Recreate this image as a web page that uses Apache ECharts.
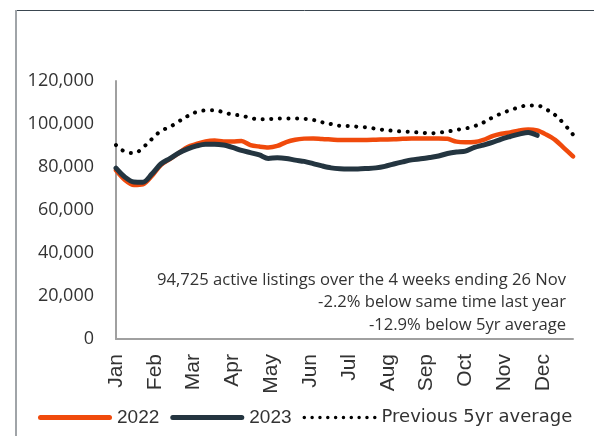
<!DOCTYPE html>
<html>
<head>
<meta charset="utf-8">
<script src="https://cdn.jsdelivr.net/npm/echarts@6/dist/echarts.min.js"></script>
<style>
html,body{margin:0;padding:0;background:#fff;}
#chart{width:594px;height:436px;}
</style>
</head>
<body>
<div id="chart"></div>
<script>
// Weekly data (52 weeks, starting 1 Jan)
var months = ['Jan','Feb','Mar','Apr','May','Jun','Jul','Aug','Sep','Oct','Nov','Dec'];
var yTicks = [0, 20000, 40000, 60000, 80000, 100000, 120000];
var weeksPerMonth = 52 / 12;

var s2022 = [78500,74000,71600,71900,75800,80900,83700,86500,89300,90700,91900,92300,91900,91900,92100,90200,89500,
             89100,89800,91600,92700,93200,93300,93000,92800,92600,92600,92600,92600,92700,92800,92900,93100,93300,
             93300,93300,93300,93100,91800,91500,91600,92600,94400,95500,96100,97000,97500,97000,95100,92600,88800,84900];
var s2023 = [79500,75300,73000,72900,76700,81400,83900,86500,88400,89800,90600,90600,90200,89100,87700,86700,85600,
             84000,84300,84000,83200,82600,81600,80500,79600,79200,79100,79100,79300,79600,80300,81400,82400,83300,
             83800,84400,85100,86300,87000,87400,89100,90200,91400,93000,94200,95300,96100,94725];
var s5yr = [90200,87200,86500,89100,93000,96700,98600,101200,103700,105600,106300,106400,105400,104400,103900,102800,102200,
            102300,102500,102600,102600,102400,101900,100800,100000,99200,99100,98700,98400,97800,97200,96800,96500,96300,
            96000,95700,96000,96500,97300,97900,99000,100700,103000,104900,106400,107800,108600,108500,106800,104200,100000,95100];

var annotation = ['94,725 active listings over the 4 weeks ending 26 Nov',
                  '-2.2% below same time last year',
                  '-12.9% below 5yr average'];

function pairs(arr){ return arr.map(function(v,i){ return [i, v]; }); }

// legend icons
var pillIcon = 'path://M2.5,0 L71.5,0 A2.5,2.5 0 0 1 71.5,5 L2.5,5 A2.5,2.5 0 0 1 2.5,0 Z';
var dotIcon = (function(){
  var p = 'path://', r = 1.75, n = 10, step = (74 - 2*r) / (n - 1);
  for (var k = 0; k < n; k++) {
    var cx = r + k*step;
    p += 'M' + (cx - r).toFixed(2) + ',' + r + ' A' + r + ',' + r + ' 0 1 0 ' + (cx + r).toFixed(2) + ',' + r +
         ' A' + r + ',' + r + ' 0 1 0 ' + (cx - r).toFixed(2) + ',' + r + ' Z ';
  }
  return p;
})();

var FONT = 'Open Sans';
var ARIAL = 'Liberation Sans';
var TXT = '#333333';
var chart = echarts.init(document.getElementById('chart'), null, {renderer:'canvas'});
chart.setOption({
  animation: false,
  backgroundColor: '#ffffff',
  textStyle: {fontFamily: FONT},
  grid: {left: 116, top: 81, right: 21, bottom: 97, containLabel: false},
  xAxis: {
    type: 'value', min: 0, max: 51, interval: weeksPerMonth,
    axisLine: {show: true, lineStyle: {color: '#a0a0a0', width: 2}},
    axisTick: {show: false},
    splitLine: {show: false},
    axisLabel: {
      rotate: 90, margin: 15, color: TXT, fontSize: 21, fontFamily: ARIAL,
      showMaxLabel: false,
      formatter: function(v){ var k = Math.round(v / weeksPerMonth); return months[k] || ''; }
    }
  },
  yAxis: {
    type: 'value', min: yTicks[0], max: yTicks[yTicks.length-1], interval: 20000,
    axisLine: {show: true, lineStyle: {color: '#a0a0a0', width: 2}},
    axisTick: {show: false},
    splitLine: {show: false},
    axisLabel: {
      margin: 22, color: TXT, fontSize: 18, fontFamily: FONT,
      formatter: function(v){ return v.toLocaleString('en-US'); }
    }
  },
  legend: {
    left: 38, top: 408, padding: 0, itemWidth: 74, itemHeight: 5, itemGap: 11,
    textStyle: {color: TXT, fontSize: 19, fontFamily: ARIAL},
    data: [
      {name: '2022', icon: pillIcon},
      {name: '2023', icon: pillIcon},
      {name: 'Previous 5yr average', icon: dotIcon, textStyle: {fontFamily: 'DejaVu Sans', fontSize: 18}}
    ]
  },
  series: [
    {name: 'Previous 5yr average', type: 'line', data: pairs(s5yr), symbol: 'none', smooth: true,
     lineStyle: {color: '#000000', width: 4, type: [0.1, 8.5], cap: 'round'}, itemStyle: {color: '#000000'}, z: 1},
    {name: '2022', type: 'line', data: pairs(s2022), symbol: 'none', smooth: 0.3,
     lineStyle: {color: '#F04A0C', width: 4.5, cap: 'round'}, itemStyle: {color: '#F04A0C'}, z: 2},
    {name: '2023', type: 'line', data: pairs(s2023), symbol: 'none', smooth: 0.3,
     lineStyle: {color: '#243540', width: 5, cap: 'round'}, itemStyle: {color: '#243540'}, z: 3}
  ],
  graphic: [
    {type: 'line', shape: {x1: 15, y1: 10.5, x2: 594, y2: 10.5}, style: {stroke: '#3a4650', lineWidth: 1}, silent: true},
    {type: 'line', shape: {x1: 16, y1: 10, x2: 16, y2: 436}, style: {stroke: '#a0a4a8', lineWidth: 2}, silent: true},
    {type: 'text', x: 566, y: 280, style: {text: annotation[0], fill: TXT, font: '16.6px "Open Sans"', textAlign: 'right', textVerticalAlign: 'middle'}},
    {type: 'text', x: 566, y: 302.5, style: {text: annotation[1], fill: TXT, font: '16.6px "Open Sans"', textAlign: 'right', textVerticalAlign: 'middle'}},
    {type: 'text', x: 566, y: 325, style: {text: annotation[2], fill: TXT, font: '16.6px "Open Sans"', textAlign: 'right', textVerticalAlign: 'middle'}}
  ]
});
</script>
</body>
</html>
